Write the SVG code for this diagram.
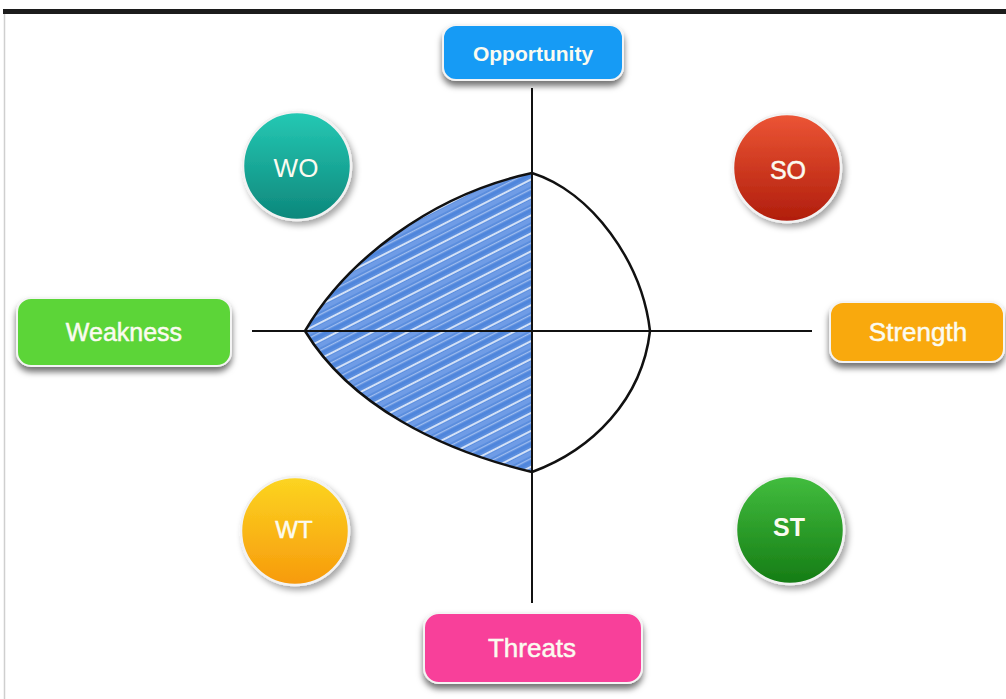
<svg xmlns="http://www.w3.org/2000/svg" width="1006" height="699" viewBox="0 0 1006 699">
<style>
.box{stroke:#f4f4f4;stroke-width:2;filter:url(#sh)}
.circ{stroke:#f2f2f2;stroke-width:2.5;filter:url(#csh)}
.lbl{font-family:"Liberation Sans",Arial,sans-serif;fill:#fbfbf0;text-anchor:middle;dominant-baseline:central}
.med{stroke:#fbfbf0;stroke-width:0.5}
.axis{stroke:#111;stroke-width:2;fill:none}
.outline{stroke:#111;stroke-width:2.5;fill:none}
</style>
<defs>
<filter id="sh" x="-20%" y="-30%" width="140%" height="180%">
<feDropShadow dx="0" dy="5" stdDeviation="3" flood-color="#000" flood-opacity="0.55"/>
</filter>
<filter id="csh" x="-30%" y="-30%" width="170%" height="170%">
<feDropShadow dx="3" dy="4" stdDeviation="3" flood-color="#000" flood-opacity="0.35"/>
</filter>
<linearGradient id="gWO" x1="0" y1="0" x2="0" y2="1"><stop offset="0" stop-color="#25c9b4"/><stop offset="1" stop-color="#0d877b"/></linearGradient>
<linearGradient id="gSO" x1="0" y1="0" x2="0" y2="1"><stop offset="0" stop-color="#ec5535"/><stop offset="1" stop-color="#b01d0c"/></linearGradient>
<linearGradient id="gWT" x1="0" y1="0" x2="0" y2="1"><stop offset="0" stop-color="#fcd521"/><stop offset="1" stop-color="#f79a0c"/></linearGradient>
<linearGradient id="gST" x1="0" y1="0" x2="0" y2="1"><stop offset="0" stop-color="#42bd3e"/><stop offset="1" stop-color="#157c15"/></linearGradient>
<pattern id="hatch" width="20" height="16" patternUnits="userSpaceOnUse" patternTransform="rotate(-27)">
<rect width="20" height="16" fill="#5b8ede"/>
<rect y="0" width="20" height="2" fill="#d3e1f7"/>
<rect y="3" width="20" height="4" fill="#6f9ce6"/>
<rect y="9" width="20" height="1.2" fill="#9fbdef"/>
<rect y="11" width="20" height="3" fill="#4f86dc"/>
</pattern>
<clipPath id="leftHalf"><rect x="250" y="150" width="282" height="350"/></clipPath>
</defs>
<rect width="1006" height="699" fill="#fff"/>
<rect x="3" y="9" width="1003" height="5" fill="#1c1c1c"/>
<line x1="4.5" y1="14" x2="4.5" y2="699" stroke="#cfcfcf" stroke-width="1.5"/>

<g id="shape">
<path d="M305,331 C345,262 430,195 532,173 L532,472 C440,450 350,405 305,331 Z" fill="url(#hatch)" clip-path="url(#leftHalf)"/>
</g>

<g id="connectors">
<line class="axis" x1="532" y1="88" x2="532" y2="603"/>
<line class="axis" x1="252" y1="331" x2="812" y2="331"/>
<path class="outline" d="M305,331 C345,262 430,195 532,173 C592,192 642,262 650,331 C642,400 592,450 532,472 C440,450 350,405 305,331 Z"/>
</g>

<g id="opportunity">
<rect class="box" x="443" y="25" width="180" height="55" rx="13" fill="#179bf5"/>
<text class="lbl" x="533" y="53" font-size="21" font-weight="bold">Opportunity</text>
</g>
<g id="weakness">
<rect class="box" x="17" y="298" width="214" height="68" rx="14" fill="#5cd539"/>
<text class="lbl med" x="124" y="332" font-size="25">Weakness</text>
</g>
<g id="strength">
<rect class="box" x="830" y="302" width="174" height="60" rx="13" fill="#f9a910"/>
<text class="lbl med" x="918" y="332" font-size="26">Strength</text>
</g>
<g id="threats">
<rect class="box" x="424" y="613" width="218" height="70" rx="15" fill="#f8409a"/>
<text class="lbl med" x="532" y="648" font-size="26">Threats</text>
</g>

<g id="wo">
<circle class="circ" cx="297" cy="166" r="54" fill="url(#gWO)"/>
<text class="lbl" x="296" y="168" font-size="26">WO</text>
</g>
<g id="so">
<circle class="circ" cx="787" cy="168" r="54" fill="url(#gSO)"/>
<text class="lbl med" x="788" y="170" font-size="25">SO</text>
</g>
<g id="wt">
<circle class="circ" cx="295" cy="531" r="54" fill="url(#gWT)"/>
<text class="lbl med" x="294" y="529" font-size="24">WT</text>
</g>
<g id="st">
<circle class="circ" cx="790" cy="530" r="54" fill="url(#gST)"/>
<text class="lbl" x="789" y="527" font-size="25" font-weight="bold">ST</text>
</g>
</svg>
